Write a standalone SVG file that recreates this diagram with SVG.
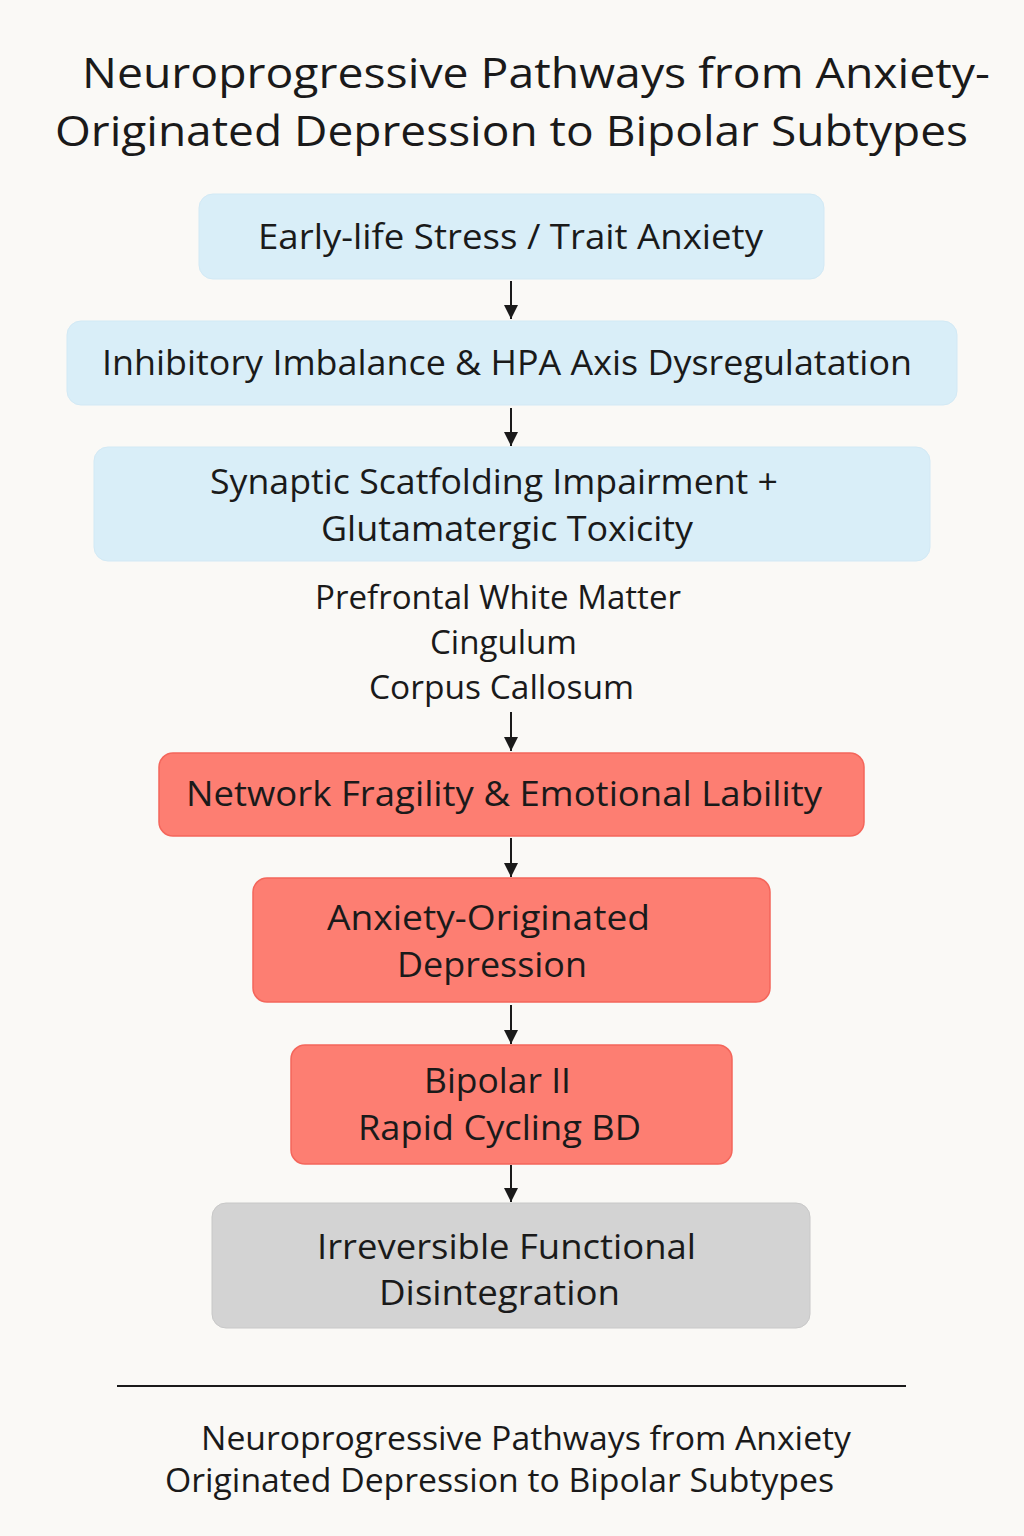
<svg xmlns="http://www.w3.org/2000/svg" width="1024" height="1536" viewBox="0 0 1024 1536">
<style>
text{font-family:"Open Sans","Noto Sans","DejaVu Sans",sans-serif;fill:#1a1a1a}
.t{font-size:42px}
.n{font-size:35px}
.f{font-size:32px}
.blue{fill:#d9eef8;stroke:#d2e9f5;stroke-width:1}
.red{fill:#fd7e72;stroke:#f4665b;stroke-width:1.5}
.gray{fill:#d3d3d3;stroke:#c8c8c8;stroke-width:1}
.c{stroke:#1a1a1a;stroke-width:2;fill:none;marker-end:url(#ah)}
</style>
<defs>
<marker id="ah" viewBox="0 0 10 10" refX="10" refY="5" markerWidth="14" markerHeight="14" markerUnits="userSpaceOnUse" orient="auto"><path d="M0,0L10,5L0,10z" fill="#1a1a1a"/></marker>
</defs>
<rect width="1024" height="1536" fill="#faf9f6"/>
<g id="title">
<text class="t" x="82" y="88" textLength="908" lengthAdjust="spacingAndGlyphs">Neuroprogressive Pathways from Anxiety-</text>
<text class="t" x="55" y="146" textLength="913" lengthAdjust="spacingAndGlyphs">Originated Depression to Bipolar Subtypes</text>
</g>
<g id="connectors">
<line class="c" x1="511" y1="281" x2="511" y2="319"/>
<line class="c" x1="511" y1="408" x2="511" y2="446"/>
<line class="c" x1="511" y1="712" x2="511" y2="751"/>
<line class="c" x1="511" y1="838" x2="511" y2="877"/>
<line class="c" x1="511" y1="1005" x2="511" y2="1044"/>
<line class="c" x1="511" y1="1165" x2="511" y2="1202"/>
</g>
<g id="n1">
<rect class="blue" x="199" y="194" width="625" height="85" rx="14"/>
<text class="n" x="258" y="249" textLength="505" lengthAdjust="spacingAndGlyphs">Early-life Stress / Trait Anxiety</text>
</g>
<g id="n2">
<rect class="blue" x="67" y="321" width="890" height="84" rx="14"/>
<text class="n" x="102" y="375" textLength="810" lengthAdjust="spacingAndGlyphs">Inhibitory Imbalance &amp; HPA Axis Dysregulatation</text>
</g>
<g id="n3">
<rect class="blue" x="94" y="447" width="836" height="114" rx="14"/>
<text class="n" x="210" y="494" textLength="568" lengthAdjust="spacingAndGlyphs">Synaptic Scatfolding Impairment +</text>
<text class="n" x="321" y="541" textLength="372" lengthAdjust="spacingAndGlyphs">Glutamatergic Toxicity</text>
</g>
<g id="regions">
<text class="f" x="315" y="609" textLength="366" lengthAdjust="spacingAndGlyphs">Prefrontal White Matter</text>
<text class="f" x="430" y="654" textLength="147" lengthAdjust="spacingAndGlyphs">Cingulum</text>
<text class="f" x="369" y="699" textLength="265" lengthAdjust="spacingAndGlyphs">Corpus Callosum</text>
</g>
<g id="n4">
<rect class="red" x="159" y="753" width="705" height="83" rx="14"/>
<text class="n" x="186" y="806" textLength="636" lengthAdjust="spacingAndGlyphs">Network Fragility &amp; Emotional Lability</text>
</g>
<g id="n5">
<rect class="red" x="253" y="878" width="517" height="124" rx="14"/>
<text class="n" x="327" y="930" textLength="323" lengthAdjust="spacingAndGlyphs">Anxiety-Originated</text>
<text class="n" x="397" y="977" textLength="190" lengthAdjust="spacingAndGlyphs">Depression</text>
</g>
<g id="n6">
<rect class="red" x="291" y="1045" width="441" height="119" rx="14"/>
<text class="n" x="424" y="1093" textLength="147" lengthAdjust="spacingAndGlyphs">Bipolar II</text>
<text class="n" x="358" y="1140" textLength="283" lengthAdjust="spacingAndGlyphs">Rapid Cycling BD</text>
</g>
<g id="n7">
<rect class="gray" x="212" y="1203" width="598" height="125" rx="14"/>
<text class="n" x="317" y="1259" textLength="379" lengthAdjust="spacingAndGlyphs">Irreversible Functional</text>
<text class="n" x="379" y="1305" textLength="241" lengthAdjust="spacingAndGlyphs">Disintegration</text>
</g>
<g id="footer">
<line x1="117" y1="1386" x2="906" y2="1386" stroke="#1a1a1a" stroke-width="2"/>
<text class="f" x="201" y="1450" textLength="650" lengthAdjust="spacingAndGlyphs">Neuroprogressive Pathways from Anxiety</text>
<text class="f" x="165" y="1492" textLength="669" lengthAdjust="spacingAndGlyphs">Originated Depression to Bipolar Subtypes</text>
</g>
</svg>
